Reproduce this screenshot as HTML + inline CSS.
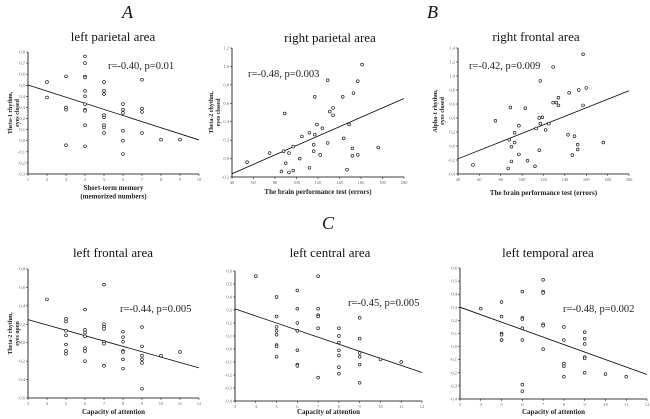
<!DOCTYPE html>
<html><head><meta charset="utf-8">
<style>
html,body{margin:0;padding:0;background:#fff;}
svg{display:block;font-family:"Liberation Serif",serif;}
.tick{font-size:4.5px;fill:#666;}
.ttl{font-size:13px;fill:#111;}
.rt{font-size:10.5px;fill:#222;}
.xl{font-size:7px;fill:#222;font-weight:bold;}
.yl{font-size:6px;fill:#222;font-weight:bold;}
.big{font-size:18px;font-style:italic;fill:#111;}
</style></head>
<body>
<svg id="fig" width="650" height="419" viewBox="0 0 650 419">
<text class="big" x="122" y="18">A</text>
<text class="big" x="427" y="18">B</text>
<text class="big" x="322" y="229">C</text>
</svg>
<script>
// ---- data arrays ----
const a1X=[2,2,3,3,3,3,4,4,4,4,4,4,4,4,4,4,4,5,5,5,5,5,5,5,5,6,6,6,6,6,6,7,7,7,7,8,9];
const a1Y=[0.53,0.39,0.58,0.30,0.28,-0.04,0.76,0.70,0.58,0.57,0.45,0.40,0.33,0.28,0.27,0.14,-0.05,0.53,0.45,0.42,0.23,0.21,0.14,0.12,0.07,0.33,0.28,0.25,0.09,0.00,-0.12,0.55,0.29,0.26,0.07,0.01,0.01];
const a1XTicks=[1,2,3,4,5,6,7,8,9,10];
const a1YTicks=[0.8,0.7,0.6,0.5,0.4,0.3,0.2,0.1,0.0,-0.1,-0.2,-0.3];

const a2X=[54,75,88,89,90,93,93,97,97,86,103,105,112,112,116,116,117,117,119,122,124,129,129,131,134,134,143,144,147,149,152,152,153,157,157,161,176];
const a2Y=[-0.04,0.06,0.08,0.49,-0.05,0.06,-0.15,-0.13,0.13,-0.14,0.00,0.24,0.28,-0.10,0.15,0.08,0.26,0.67,0.37,0.04,0.33,0.17,0.85,0.51,0.55,0.47,0.67,0.22,-0.12,0.37,0.11,0.03,0.71,0.84,0.04,1.02,0.12];
const a2XTicks=[40,60,80,100,120,140,160,180,200];
const a2YTicks=[1.2,1.0,0.8,0.6,0.4,0.2,0.0,-0.2];

const bX=[54,75,87,89,88,90,90,93,93,97,97,103,105,112,113,116,116,117,117,119,122,125,129,129,132,134,134,143,144,147,149,152,152,153,157,157,160,176];
const bY=[-0.27,0.36,-0.32,0.55,0.09,-0.01,-0.22,0.05,0.19,-0.12,0.29,0.54,-0.21,-0.29,0.25,-0.06,0.40,0.93,0.32,0.41,0.23,0.32,1.13,0.62,0.62,0.69,0.58,0.16,0.76,-0.13,0.14,-0.05,0.02,0.80,0.58,1.31,0.83,0.05];
const bXTicks=[40,60,80,100,120,140,160,180,200];
const bYTicks=[1.4,1.2,1.0,0.8,0.6,0.4,0.2,0.0,-0.2,-0.4];

const c1X=[4,5,5,5,5,5,5,5,6,6,6,6,6,6,6,7,7,7,7,7,7,7,8,8,8,8,8,8,8,9,9,9,9,9,9,10,11];
const c1Y=[0.47,0.26,0.23,0.13,0.08,-0.02,-0.09,-0.12,0.36,0.14,0.11,0.07,-0.06,-0.09,-0.20,0.63,0.20,0.17,0.15,0.01,-0.01,-0.25,0.12,0.06,0.01,-0.09,-0.10,-0.18,-0.28,0.17,-0.04,-0.14,-0.18,-0.22,-0.50,-0.14,-0.10];
const c1XTicks=[3,4,5,6,7,8,9,10,11,12];
const c1YTicks=[0.8,0.6,0.4,0.2,0.0,-0.2,-0.4,-0.6];

const c2X=[4,5,5,5,5,5,5,5,5,6,6,6,6,6,6,6,6,7,7,7,7,7,7,8,8,8,8,8,8,8,9,9,9,9,9,9,10,11];
const c2Y=[0.56,0.40,0.25,0.17,0.14,0.11,0.03,0.02,-0.06,0.45,0.31,0.20,0.14,0.14,-0.01,-0.12,-0.13,0.56,0.31,0.26,0.25,0.16,-0.22,0.16,0.10,0.05,-0.01,-0.05,-0.14,-0.19,0.24,0.08,-0.03,-0.06,-0.12,-0.26,-0.08,-0.10];
const c2XTicks=[3,4,5,6,7,8,9,10,11,12];
const c2YTicks=[0.6,0.5,0.4,0.3,0.2,0.1,0.0,-0.1,-0.2,-0.3,-0.4];

const c3X=[4,5,5,5,5,5,5,6,6,6,6,6,6,6,7,7,7,7,7,7,8,8,8,8,8,9,9,9,9,9,9,10,11];
const c3Y=[0.29,0.34,0.23,0.10,0.09,0.05,0.05,0.42,0.22,0.21,0.14,0.05,-0.29,-0.34,0.51,0.42,0.41,0.17,0.16,-0.02,0.15,0.05,-0.13,-0.15,-0.23,0.11,0.06,0.02,-0.08,-0.09,-0.20,-0.21,-0.23];
const c3XTicks=[3,4,5,6,7,8,9,10,11,12];
const c3YTicks=[0.6,0.5,0.4,0.3,0.2,0.1,0.0,-0.1,-0.2,-0.3,-0.4];

const NS='http://www.w3.org/2000/svg';
const svg=document.getElementById('fig');
function mk(tag,attrs,parent){const e=document.createElementNS(NS,tag);for(const k in attrs)e.setAttribute(k,attrs[k]);(parent||svg).appendChild(e);return e;}
function fmt(v,dec,comma){let s=v.toFixed(dec);return comma?s.replace('.',','):s;}

function panel(p){
  const g=mk('g',{});
  
  
  const xmin=p.xt[0],xmax=p.xt[p.xt.length-1];
  const ymax=p.yt[0],ymin=p.yt[p.yt.length-1];
  const sx=v=>p.x0+(v-xmin)/(xmax-xmin)*(p.x1-p.x0);
  const sy=v=>p.y1+(v-ymin)/(ymax-ymin)*(p.y0-p.y1);
  const ax=mk('path',{d:`M${p.x0},${p.y0}V${p.y1}H${p.x1}`,fill:'none',stroke:'#000','stroke-width':0.8},g);
  
  
  p.yt.forEach(v=>{
    const y=sy(v);
    mk('line',{x1:p.x0-2,x2:p.x0,y1:y,y2:y,stroke:'#000','stroke-width':0.5},g);
    const t=mk('text',{x:p.x0-3,y:y+1.5,'text-anchor':'end',class:'tick'},g);
    t.textContent=fmt(v,1,p.comma);
    
    
  });
  p.xt.forEach(v=>{
    const x=sx(v);
    mk('line',{x1:x,x2:x,y1:p.y1,y2:p.y1+2,stroke:'#000','stroke-width':0.5},g);
    const t=mk('text',{x:x,y:p.y1+7,'text-anchor':'middle',class:'tick'},g);
    t.textContent=String(v);
    
    
  });
  // regression
  const n=p.xs.length;let mx=0,my=0;for(let i=0;i<n;i++){mx+=p.xs[i];my+=p.ys[i];}mx/=n;my/=n;
  let sxy=0,sxx=0;for(let i=0;i<n;i++){sxy+=(p.xs[i]-mx)*(p.ys[i]-my);sxx+=(p.xs[i]-mx)**2;}
  const b=sxy/sxx,a=my-b*mx;
  const ln=mk('line',{x1:sx(xmin),y1:sy(a+b*xmin),x2:sx(xmax),y2:sy(a+b*xmax),stroke:'#000','stroke-width':0.8},g);
  
  
  for(let i=0;i<n;i++){
    const c=mk('circle',{cx:sx(p.xs[i]),cy:sy(p.ys[i]),r:1.4,fill:'#fff',stroke:'#000','stroke-width':0.6},g);
    
    
  }
  const tt=mk('text',{x:p.tx,y:p.ty,'text-anchor':'middle',class:'ttl'},g);
  tt.textContent=p.title;
  
  
  const rt=mk('text',{x:p.rx,y:p.ry,class:'rt'},g);
  rt.textContent=p.r;
  
  
  if(p.xl){p.xl.forEach((s,i)=>{
    const t=mk('text',{x:(p.x0+p.x1)/2,y:p.xly+i*8.5,'text-anchor':'middle',class:'xl'},g);
    t.textContent=s;
    
    
  });}
  if(p.yl){p.yl.forEach((s,i)=>{
    const cy=(p.y0+p.y1)/2;const xx=p.ylx+i*7;
    const t=mk('text',{x:xx,y:cy,'text-anchor':'middle',class:'yl',transform:`rotate(-90 ${xx} ${cy})`},g);
    t.textContent=s;
    
    
  });}
}

panel({name:'chart-left-parietal',xs:a1X,ys:a1Y,xt:a1XTicks,yt:a1YTicks,x0:28,x1:199,y0:52,y1:174,comma:true,
  title:'left parietal area',tx:113,ty:41,r:'r=-0.40, p=0.01',rx:108,ry:69,
  xl:['Short-term memory','(memorized numbers)'],xly:190,yl:['Theta-1 rhythm,','eyes closed'],ylx:12});
panel({name:'chart-right-parietal',xs:a2X,ys:a2Y,xt:a2XTicks,yt:a2YTicks,x0:232,x1:404,y0:48,y1:177,comma:false,
  title:'right parietal area',tx:330,ty:42,r:'r=-0.48, p=0.003',rx:248,ry:77,
  xl:['The brain performance test (errors)'],xly:194,yl:['Theta-2 rhythm,','eyes closed'],ylx:213});
panel({name:'chart-right-frontal',xs:bX,ys:bY,xt:bXTicks,yt:bYTicks,x0:458,x1:629,y0:48,y1:174,comma:true,
  title:'right frontal area',tx:536,ty:41,r:'r=-0.42, p=0.009',rx:469,ry:69,
  xl:['The brain performance test (errors)'],xly:195,yl:['Alpha-1 rhythm,','eyes closed'],ylx:437});
panel({name:'chart-left-frontal',xs:c1X,ys:c1Y,xt:c1XTicks,yt:c1YTicks,x0:28,x1:199,y0:269,y1:398,comma:true,
  title:'left frontal area',tx:113,ty:257,r:'r=-0.44, p=0.005',rx:120,ry:312,
  xl:['Capacity of attention'],xly:414,yl:['Theta-2 rhythm,','eyes open'],ylx:12});
panel({name:'chart-left-central',xs:c2X,ys:c2Y,xt:c2XTicks,yt:c2YTicks,x0:235,x1:422,y0:271,y1:401,comma:true,
  title:'left central area',tx:330,ty:257,r:'r=-0.45, p=0.005',rx:348,ry:306,
  xl:['Capacity of attention'],xly:414});
panel({name:'chart-left-temporal',xs:c3X,ys:c3Y,xt:c3XTicks,yt:c3YTicks,x0:460,x1:647,y0:268,y1:399,comma:true,
  title:'left temporal area',tx:548,ty:257,r:'r=-0.48, p=0.002',rx:563,ry:312,
  xl:['Capacity of attention'],xly:414});
</script>
</body></html>
